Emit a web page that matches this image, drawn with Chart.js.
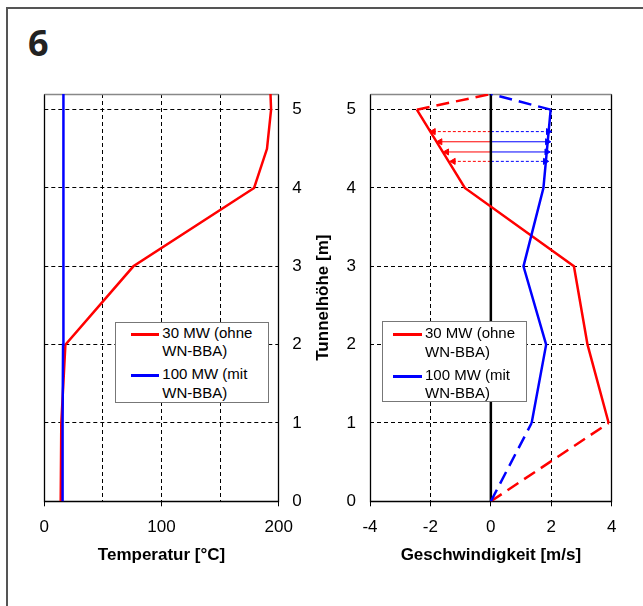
<!DOCTYPE html>
<html>
<head>
<meta charset="utf-8">
<script src="https://cdn.jsdelivr.net/npm/chart.js@4.4.1/dist/chart.umd.min.js"></script>
<style>
  body { margin: 0; background: #fff; font-family: "Liberation Sans", Arial, sans-serif; }
  #wrap { position: relative; width: 643px; height: 606px; overflow: hidden; }
  #frame { position: absolute; left: 6px; top: 7px; width: 640px; height: 610px;
           border-top: 2px solid #555; border-left: 2px solid #555; }
  #num { position: absolute; left: 28px; top: 25px; font: bold 36px "Open Sans", sans-serif; line-height: 1; color: #222; }
  canvas { position: absolute; top: 0; }
  .legend { position: absolute; box-sizing: border-box; border: 1px solid #777; background: #fff; }
  .legend .item { position: absolute; font-size: 15px; line-height: 18.7px; color: #000; white-space: nowrap; }
  .legend .line { position: absolute; height: 3px; }
</style>
</head>
<body>
<div id="wrap">
  <div id="frame"></div>
  <div id="num">6</div>
  <canvas id="tempChart" width="305" height="606" style="left:0"></canvas>
  <canvas id="speedChart" width="338" height="606" style="left:305px"></canvas>
</div>
<script>
// tick labels
const heightTicks = [0, 1, 2, 3, 4, 5];
const tempTicks = [0, 100, 200];
const speedTicks = [-4, -2, 0, 2, 4];

// Temperatur
const tempHeights30 = [0, 1, 2, 3, 4, 4.5, 5, 5.2];
const temp30 = [14, 14.5, 18, 76, 179, 190, 193.5, 193];
const tempHeights100 = [0, 1, 2, 3, 4, 5, 5.2];
const temp100 = [15.4, 15.6, 16, 16, 16.3, 16.5, 16.5];

// Geschwindigkeit (first and last points are the dashed extrapolation)
const speedHeights = [0, 1, 2, 3, 4, 5, 5.2];
const speed30 = [0, 3.9, 3.2, 2.75, -0.86, -2.45, 0];
const speed100 = [0, 1.35, 1.83, 1.08, 1.74, 1.98, 0];
const zeroLineHeights = [0, 5.2];

// arrows between the profiles
const arrowHeights = [4.72, 4.59, 4.46, 4.34];
const arrowLeft = [-1.9, -1.68, -1.46, -1.24];
const arrowRight = [1.9, 1.87, 1.85, 1.8];
const arrowDashed = [true, false, false, true];

const legendLabels = [['30 MW (ohne', 'WN-BBA)'], ['100 MW (mit', 'WN-BBA)']];
const seriesColors = ['#ff0000', '#0000ff'];

const tickFont = { family: '"Liberation Sans", Arial, sans-serif', size: 17 };
const titleFont = { family: '"Liberation Sans", Arial, sans-serif', size: 17, weight: 'bold' };

function pts(xs, ys) {
    return xs.map((x, i) => ({ x: x, y: ys[i] }));
}

// draws the plot frame: grey on top, black elsewhere
const framePlugin = {
    id: 'frame',
    beforeDatasetsDraw(chart) {
        const { ctx, chartArea: a } = chart;
        const l = Math.round(a.left) + 0.5, r = Math.round(a.right) - 0.5;
        const t = Math.round(a.top) + 0.5, b = Math.round(a.bottom) + 0.5;
        ctx.save();
        ctx.lineWidth = 1.3;
        ctx.strokeStyle = '#000';
        ctx.beginPath();
        ctx.moveTo(l, t); ctx.lineTo(l, b); ctx.lineTo(r, b); ctx.lineTo(r, t);
        ctx.stroke();
        ctx.strokeStyle = '#888';
        ctx.lineWidth = 1.5;
        ctx.beginPath();
        ctx.moveTo(l, t); ctx.lineTo(r, t);
        ctx.stroke();
        ctx.restore();
    }
};

function yAxis(position, width, withTitle) {
    return {
        type: 'linear', position: position, min: 0, max: 5.2,
        afterBuildTicks: s => { s.ticks = heightTicks.map(v => ({ value: v })); },
        afterFit: s => { s.width = width; },
        grid: { color: '#000', lineWidth: 1, drawTicks: false },
        border: { display: false, dash: [4, 3] },
        ticks: { font: tickFont, color: '#000', padding: position === 'left' ? 14 : 13.5 },
        title: { display: withTitle, text: 'Tunnelhöhe [m]', font: titleFont, color: '#000', padding: { top: 8, bottom: 0 } }
    };
}

function xAxis(min, max, step, labels, title) {
    return {
        type: 'linear', position: 'bottom', min: min, max: max,
        afterBuildTicks: s => {
            const t = [];
            for (let v = min; v <= max; v += step) t.push({ value: v });
            s.ticks = t;
        },
        afterFit: s => { s.height = 104.7; },
        grid: {
            color: '#000', lineWidth: 1, tickLength: 5,
            tickColor: c => labels.includes(c.tick.value) ? '#000' : 'rgba(0,0,0,0)'
        },
        border: { display: false, dash: [4, 3] },
        ticks: {
            font: tickFont, color: '#000', padding: 11, maxRotation: 0, autoSkip: false,
            callback: v => labels.includes(v) ? String(v) : ''
        },
        title: { display: true, text: title, font: titleFont, color: '#000', padding: { top: 0, bottom: 40 } }
    };
}

const baseOptions = {
    responsive: false,
    animation: false,
    devicePixelRatio: 1,
    plugins: { legend: { display: false }, tooltip: { enabled: false } },
    elements: { point: { radius: 0 }, line: { tension: 0 } }
};

new Chart(document.getElementById('tempChart'), {
    type: 'scatter',
    data: {
        datasets: [
            { data: pts(temp100, tempHeights100), showLine: true, borderColor: seriesColors[1], borderWidth: 2.5, order: 0 },
            { data: pts(temp30, tempHeights30), showLine: true, borderColor: seriesColors[0], borderWidth: 2.5, order: 1 }
        ]
    },
    options: Object.assign({}, baseOptions, {
        layout: { padding: { left: 44.3, top: 94, right: 0, bottom: 0 } },
        scales: {
            x: xAxis(0, 200, 50, tempTicks, 'Temperatur [°C]'),
            y: yAxis('right', 26.3, false)
        }
    }),
    plugins: [framePlugin]
});

const dashEnds = c => (c.p0DataIndex === 0 || c.p1DataIndex === speedHeights.length - 1) ? [13, 7] : undefined;

const speedSets = [
    { data: pts(speed30, speedHeights), showLine: true, borderColor: seriesColors[0], borderWidth: 2.5, segment: { borderDash: dashEnds }, order: 1 },
    { data: pts(speed100, speedHeights), showLine: true, borderColor: seriesColors[1], borderWidth: 2.5, segment: { borderDash: dashEnds }, order: 0 },
    { data: pts(zeroLineHeights.map(() => 0), zeroLineHeights), showLine: true, borderColor: '#000', borderWidth: 2.5, order: 2 }
];

arrowHeights.forEach((h, i) => {
    const dash = arrowDashed[i] ? [3, 2] : [];
    [[arrowLeft[i], seriesColors[0], -90], [arrowRight[i], seriesColors[1], 90]].forEach(([end, col, rot]) => {
        speedSets.push({
            data: pts([0, end], [h, h]), showLine: true, borderColor: col, borderWidth: 1, borderDash: dash,
            pointRadius: [0, 3.5], pointStyle: 'triangle', pointRotation: rot,
            pointBackgroundColor: col, pointBorderColor: col, pointBorderWidth: 1, order: 3
        });
    });
});

new Chart(document.getElementById('speedChart'), {
    type: 'scatter',
    data: { datasets: speedSets },
    options: Object.assign({}, baseOptions, {
        layout: { padding: { left: 0, top: 94, right: 31.3, bottom: 0 } },
        scales: {
            x: xAxis(-4, 4, 2, speedTicks, 'Geschwindigkeit [m/s]'),
            y: yAxis('left', 65, true)
        }
    }),
    plugins: [framePlugin]
});

// legends (HTML boxes inside the plots)
function makeLegend(left, top, width, height, lineLeft, lineWidth, textLeft, lineTops, textTops) {
    const box = document.createElement('div');
    box.className = 'legend';
    box.style.cssText = `left:${left}px;top:${top}px;width:${width}px;height:${height}px`;
    legendLabels.forEach((lines, i) => {
        const line = document.createElement('div');
        line.className = 'line';
        line.style.cssText = `left:${lineLeft}px;top:${lineTops[i]}px;width:${lineWidth}px;background:${seriesColors[i]}`;
        box.appendChild(line);
        const item = document.createElement('div');
        item.className = 'item';
        item.style.cssText = `left:${textLeft}px;top:${textTops[i]}px`;
        item.innerHTML = lines.join('<br>');
        box.appendChild(item);
    });
    document.getElementById('wrap').appendChild(box);
}

makeLegend(115.3, 322, 154, 80.5, 14.4, 28, 46, [9.5, 51.2], [0.6, 42.4]);
makeLegend(381.7, 321, 145, 80.7, 10, 29, 42.3, [10.8, 52.5], [1.9, 43.7]);
</script>
</body>
</html>
